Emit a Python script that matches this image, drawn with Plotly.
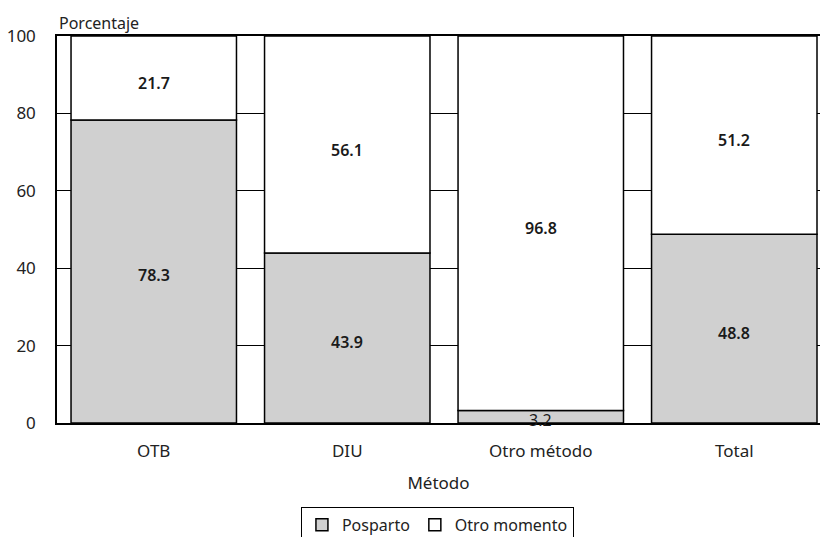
import plotly.graph_objects as go

metodos = ["OTB", "DIU", "Otro método", "Total"]
posparto = [78.3, 43.9, 3.2, 48.8]
otro_momento = [21.7, 56.1, 96.8, 51.2]
y_ticks = [0, 20, 40, 60, 80, 100]

FONT = "Noto Sans, Open Sans, sans-serif"
TXT = "#222222"
x_pos = list(range(len(metodos)))

fig = go.Figure()
fig.add_trace(go.Bar(
    x=x_pos, y=posparto, name="Posparto",
    marker=dict(color="#d0d0d0", line=dict(color="#000000", width=1.5)),
))
fig.add_trace(go.Bar(
    x=x_pos, y=otro_momento, base=posparto, name="Otro momento",
    marker=dict(color="#ffffff", line=dict(color="#000000", width=1.5)),
))

# value labels centred in each segment
for i in x_pos:
    small = posparto[i] < 10
    fig.add_annotation(x=i, y=posparto[i] / 2, text=f"{posparto[i]:.1f}",
                       showarrow=False, yshift=-4 if not small else -3,
                       font=dict(family=FONT, size=16, color="#1a1a1a",
                                 weight=400 if small else 600))
    fig.add_annotation(x=i, y=posparto[i] + otro_momento[i] / 2,
                       text=f"{otro_momento[i]:.1f}", showarrow=False, yshift=-5,
                       font=dict(family=FONT, size=16, color="#1a1a1a", weight=600))

fig.add_annotation(x=0, xref="paper", xanchor="left", y=1, yref="paper",
                   yanchor="bottom", yshift=0, text="Porcentaje", showarrow=False,
                   font=dict(family=FONT, size=16, color=TXT))

fig.update_layout(
    width=820, height=537,
    margin=dict(l=57, r=0, t=36, b=114, autoexpand=False),
    plot_bgcolor="#ffffff", paper_bgcolor="#ffffff",
    barmode="overlay", bargap=0.145,
    font=dict(family=FONT, size=17, color=TXT),
    showlegend=True,
    legend=dict(orientation="h", xref="container", x=0.367, xanchor="left",
                yref="container", y=0.056, yanchor="top",
                bordercolor="#000000", borderwidth=1, bgcolor="#ffffff",
                font=dict(family=FONT, size=16, color=TXT),
                itemwidth=30, tracegroupgap=0),
    xaxis=dict(
        range=[-0.5, 3.443], tickmode="array", tickvals=x_pos, ticktext=metodos,
        showline=True, linecolor="#000000", linewidth=1.5, mirror=True,
        showgrid=False, ticks="", ticklabelstandoff=12, automargin=False,
        title=dict(text="Método", standoff=16,
                   font=dict(family=FONT, size=17, color=TXT)),
    ),
    yaxis=dict(
        range=[0, 100], tickmode="array", tickvals=y_ticks,
        showline=True, linecolor="#000000", linewidth=1.5,
        showgrid=True, gridcolor="#000000", gridwidth=1, automargin=False,
        zeroline=False, ticks="", ticklabelstandoff=16,
    ),
)

fig.write_html("out.html")
